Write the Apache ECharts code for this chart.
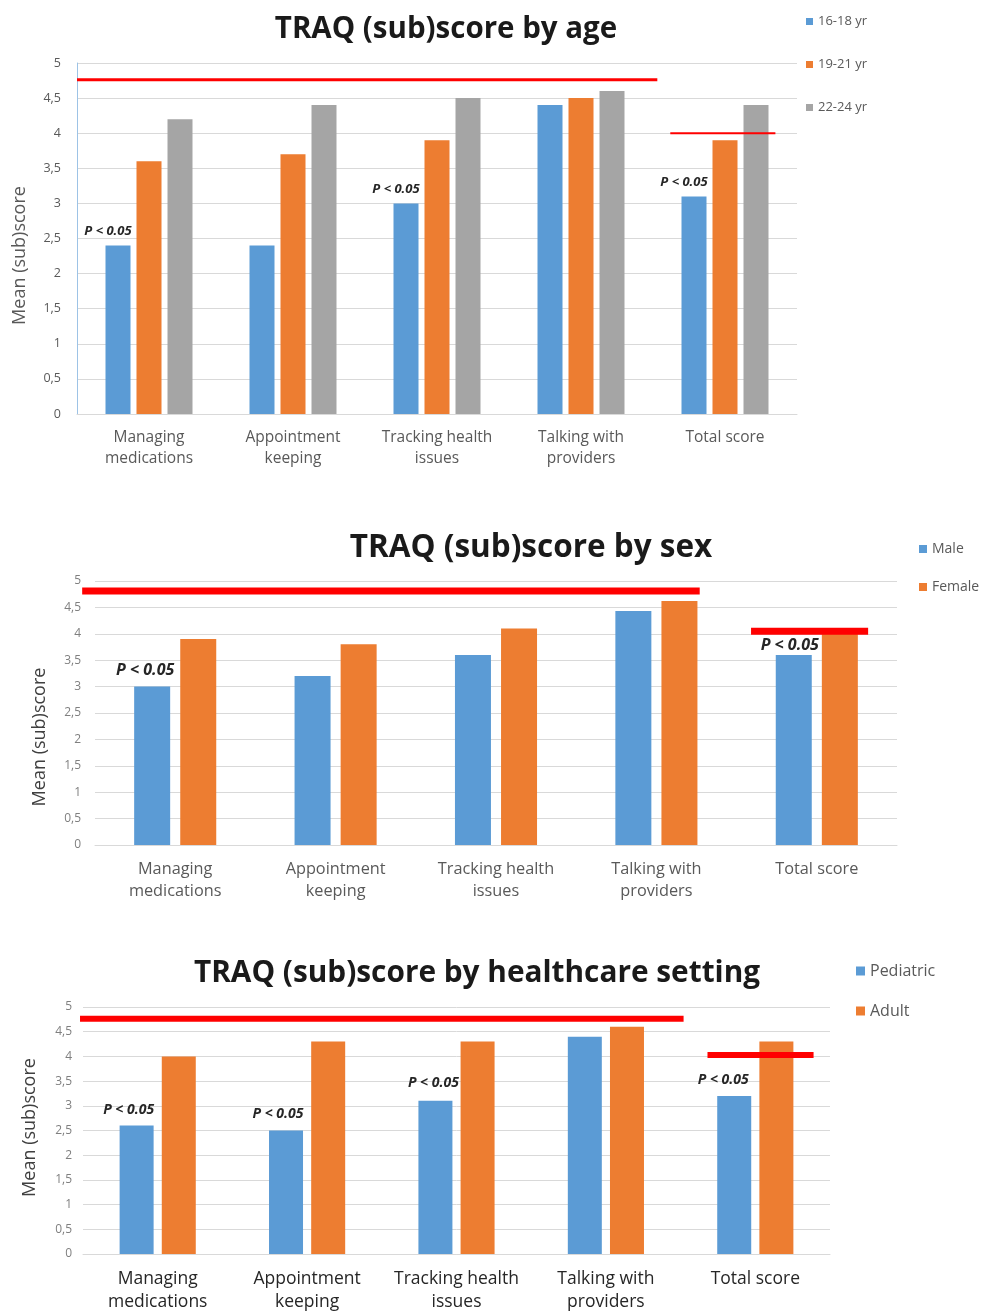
<!DOCTYPE html>
<html>
<head>
<meta charset="utf-8">
<script src="https://cdn.jsdelivr.net/npm/echarts@6/dist/echarts.min.js"></script>
<style>
html,body{margin:0;padding:0;background:#fff;}
#c{width:982px;height:1314px;}
</style>
</head>
<body>
<div id="c"></div>
<script>
// ---------- data ----------
const categories = ["Managing\nmedications", "Appointment\nkeeping", "Tracking health\nissues", "Talking with\nproviders", "Total score"];
const yTicks = [0, 0.5, 1, 1.5, 2, 2.5, 3, 3.5, 4, 4.5, 5];

// chart 1: by age
const ageTitle = "TRAQ (sub)score by age";
const ageGroups = ["16-18 yr", "19-21 yr", "22-24 yr"];
const age16_18 = [2.4, 2.4, 3.0, 4.4, 3.1];
const age19_21 = [3.6, 3.7, 3.9, 4.5, 3.9];
const age22_24 = [4.2, 4.4, 4.5, 4.6, 4.4];
const ageSig = [true, false, true, false, true];
const ageRefLevels = [4.76, 4.0];

// chart 2: by sex
const sexTitle = "TRAQ (sub)score by sex";
const sexGroups = ["Male", "Female"];
const sexMale = [3.0, 3.2, 3.6, 4.43, 3.6];
const sexFemale = [3.9, 3.8, 4.1, 4.62, 4.0];
const sexSig = [true, false, false, false, true];
const sexRefLevels = [4.81, 4.05];

// chart 3: by healthcare setting
const setTitle = "TRAQ (sub)score by healthcare setting";
const setGroups = ["Pediatric", "Adult"];
const setPediatric = [2.6, 2.5, 3.1, 4.4, 3.2];
const setAdult = [4.0, 4.3, 4.3, 4.6, 4.3];
const setSig = [true, true, true, false, true];
const setRefLevels = [4.76, 4.03];

const yName = "Mean (sub)score";
const sigText = "P < 0.05";

// ---------- styling ----------
const FONT = "Open Sans";
const BLUE = "#5b9bd5", ORANGE = "#ed7d31", GRAY = "#a5a5a5", RED = "#ff0000";

const panels = [
  {
    title: ageTitle, titleX: 446, titleTop: 15, titleSize: 29.5,
    grid: {left: 77, right: 185, top: 63, bottom: 900},
    legend: {left: 806, top: 15, itemGap: 30, fontSize: 13, names: ageGroups},
    tickSize: 12.5, tickColor: "#595959", tickMargin: 16,
    catSize: 15.5, catLH: 21, catMargin: 13, catColor: "#595959",
    nameSize: 18, nameGap: 48, namePad: [0, 34, 0, 0], nameColor: "#595959", yLine: "#9dc3e6",
    series: [age16_18, age19_21, age22_24], colors: [BLUE, ORANGE, GRAY],
    barWidth: 25, barGap: "24%",
    sig: ageSig, sigSize: 13, sigOffset: [[-10, -3], [-10, -3], [-10, -3], [-10, -3], [-10, -3]],
    ref: ageRefLevels, spans: [[0, 4.03], [4.12, 4.85]], refWidth: [3, 2]
  },
  {
    title: sexTitle, titleX: 531, titleTop: 532, titleSize: 31.5,
    grid: {left: 95, right: 85, top: 581, bottom: 469},
    legend: {left: 919, top: 542, itemGap: 24, fontSize: 14, names: sexGroups},
    tickSize: 12, tickColor: "#7f7f7f", tickMargin: 14,
    catSize: 16.3, catLH: 22, catMargin: 13, catColor: "#595959",
    nameSize: 18, nameGap: 46, namePad: [0, 48, 0, 0], nameColor: "#404040", yLine: null,
    series: [sexMale, sexFemale], colors: [BLUE, ORANGE],
    barWidth: 36, barGap: "28%",
    sig: sexSig, sigSize: 16, sigOffset: [[-7, -3], [-7, -3], [-7, -3], [-7, -3], [-4, 4]],
    ref: sexRefLevels, spans: [[-0.08, 3.77], [4.09, 4.82]], refWidth: [7, 7]
  },
  {
    title: setTitle, titleX: 477, titleTop: 959, titleSize: 29.8,
    grid: {left: 83, right: 152, top: 1007, bottom: 60},
    legend: {left: 856, top: 963, itemGap: 24, fontSize: 16, names: setGroups},
    tickSize: 12, tickColor: "#7f7f7f", tickMargin: 11,
    catSize: 17.5, catLH: 23, catMargin: 14, catColor: "#262626",
    nameSize: 18, nameGap: 44.5, namePad: [0, 0, 0, 6], nameColor: "#404040", yLine: null,
    series: [setPediatric, setAdult], colors: [BLUE, ORANGE],
    barWidth: 34, barGap: "24%",
    sig: setSig, sigSize: 14, sigOffset: [[-8, -4], [-8, -4], [-2, -6], [-8, -4], [-11, -4]],
    ref: setRefLevels, spans: [[-0.02, 4.02], [4.18, 4.89]], refWidth: [6, 6]
  }
];

const option = {
  backgroundColor: "#fff",
  animation: false,
  textStyle: {fontFamily: FONT},
  title: [], legend: [], grid: [], xAxis: [], yAxis: [], series: []
};

panels.forEach((p, i) => {
  option.title.push({
    text: p.title, left: p.titleX, top: p.titleTop, textAlign: "center", padding: 0,
    textStyle: {fontFamily: FONT, fontWeight: "bold", fontSize: p.titleSize, color: "#1a1a1a"}
  });
  const names = p.legend.names;
  const icon = Math.round(p.legend.fontSize * 0.55);
  option.legend.push({
    data: names, orient: "vertical", left: p.legend.left, top: p.legend.top,
    itemGap: p.legend.itemGap, itemWidth: icon, itemHeight: icon,
    icon: "rect", padding: 0,
    textStyle: {fontFamily: FONT, fontSize: p.legend.fontSize, color: "#595959"}
  });
  option.grid.push(Object.assign({containLabel: false, outerBoundsMode: "none"}, p.grid));
  option.xAxis.push({
    type: "category", gridIndex: i, data: categories,
    axisTick: {show: false},
    axisLine: {show: true, lineStyle: {color: "#d9d9d9", width: 1}},
    axisLabel: {fontFamily: FONT, fontSize: p.catSize, lineHeight: p.catLH, margin: p.catMargin, color: p.catColor, interval: 0}
  });
  option.yAxis.push({
    type: "value", gridIndex: i, min: 0, max: 5, interval: 0.5,
    name: yName, nameLocation: "middle", nameGap: p.nameGap, nameRotate: 90,
    nameTextStyle: {fontFamily: FONT, fontSize: p.nameSize, color: p.nameColor, padding: p.namePad},
    axisLine: {show: !!p.yLine, lineStyle: {color: p.yLine || "#d9d9d9", width: 1}},
    axisTick: {show: false},
    splitLine: {lineStyle: {color: "#d9d9d9", width: 1}},
    axisLabel: {fontFamily: FONT, fontSize: p.tickSize, color: p.tickColor, margin: p.tickMargin,
      formatter: v => (yTicks.indexOf(v) >= 0 ? String(v).replace(".", ",") : "")}
  });
  p.series.forEach((vals, k) => {
    const s = {
      type: "bar", name: names[k], xAxisIndex: i, yAxisIndex: i,
      barWidth: p.barWidth, barGap: p.barGap,
      itemStyle: {color: p.colors[k]},
      z: 2
    };
    if (k === 0) {
      s.data = vals.map((v, j) => ({
        value: v,
        label: {
          show: p.sig[j], position: "top", distance: 5, offset: p.sigOffset[j],
          formatter: sigText,
          fontFamily: FONT, fontStyle: "italic", fontWeight: "bold", fontSize: p.sigSize, color: "#262626"
        }
      }));
    } else {
      s.data = vals;
    }
    option.series.push(s);
  });
  // red reference lines
  option.series.push({
    type: "custom", xAxisIndex: i, yAxisIndex: i, silent: true, z: 10, clip: false,
    data: p.ref.map(v => [0, v]),
    renderItem: (params, api) => {
      const cs = params.coordSys;
      const band = cs.width / categories.length;
      const span = p.spans[params.dataIndex];
      const y = api.coord([0, api.value(1)])[1];
      return {
        type: "line",
        shape: {x1: cs.x + band * span[0], y1: y, x2: cs.x + band * span[1], y2: y},
        style: {stroke: RED, lineWidth: p.refWidth[params.dataIndex]}
      };
    }
  });
});

const chart = echarts.init(document.getElementById("c"), null, {renderer: "canvas"});
chart.setOption(option);
</script>
</body>
</html>
